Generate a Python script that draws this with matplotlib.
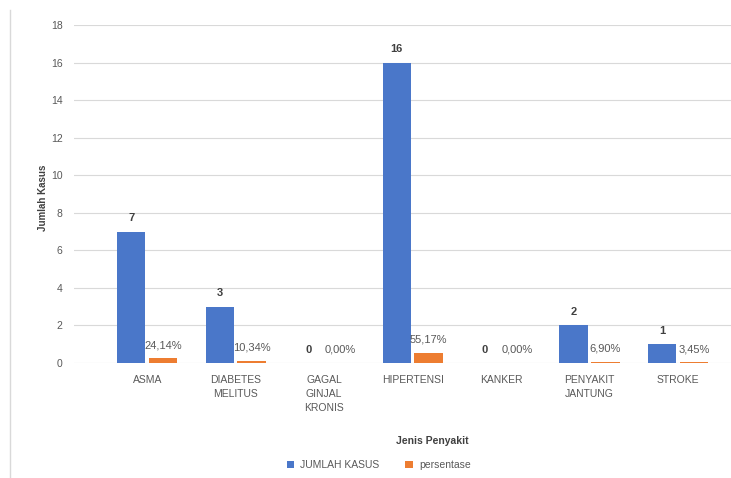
import numpy as np
import matplotlib
matplotlib.use('Agg')
import matplotlib.pyplot as plt
from matplotlib.lines import Line2D

plt.rcParams['font.family'] = ['Liberation Sans', 'DejaVu Sans']

# data
categories = ['ASMA', 'DIABETES\nMELITUS', 'GAGAL\nGINJAL\nKRONIS', 'HIPERTENSI',
              'KANKER', 'PENYAKIT\nJANTUNG', 'STROKE']
jumlah_kasus = [7, 3, 0, 16, 0, 2, 1]
persentase = [0.2414, 0.1034, 0.0, 0.5517, 0.0, 0.0690, 0.0345]
persen_labels = ['24,14%', '10,34%', '0,00%', '55,17%', '0,00%', '6,90%', '3,45%']
yticks = [0, 2, 4, 6, 8, 10, 12, 14, 16, 18]

blue = '#4a77c9'
orange = '#ed7d31'
grey = '#595959'

fig = plt.figure(figsize=(7.31, 4.78), dpi=100)
ax = fig.add_axes([0.101, 0.2406, 0.899, 0.7071])

x = np.arange(len(categories))
w = 0.32
b1 = ax.bar(x - 0.18, jumlah_kasus, w, color=blue, label='JUMLAH KASUS', zorder=3)
b2 = ax.bar(x + 0.18, persentase, w, color=orange, label='persentase', zorder=3)

for rect, v in zip(b1, jumlah_kasus):
    ax.annotate(str(v), (rect.get_x() + rect.get_width() / 2, rect.get_height()),
                xytext=(0, 6), textcoords='offset points', ha='center', va='bottom',
                fontsize=8, color='#404040', fontweight='bold')
for rect, s in zip(b2, persen_labels):
    ax.annotate(s, (rect.get_x() + rect.get_width() / 2, rect.get_height()),
                xytext=(0, 6), textcoords='offset points', ha='center', va='bottom',
                fontsize=8, color=grey)

ax.set_ylim(0, 18)
ax.set_xlim(-0.83, 6.6)
ax.set_yticks(yticks)
ax.set_xticks(x)
ax.set_xticklabels(categories, fontsize=7.5, color=grey, linespacing=1.5)
ax.tick_params(axis='y', labelsize=7.5, labelcolor=grey, length=0, pad=8)
ax.tick_params(axis='x', length=0, pad=9)
ax.grid(axis='y', color='#d9d9d9', linewidth=0.8, zorder=0)
for sp in ax.spines.values():
    sp.set_visible(False)

ax.set_ylabel('Jumlah Kasus', fontsize=7, fontweight='bold', color='#404040')
ax.yaxis.set_label_coords(-0.04, 0.49)
ax.set_xlabel('Jenis Penyakit', fontsize=7.5, fontweight='bold', color='#404040')
ax.xaxis.set_label_coords(0.546, -0.215)

fig.legend(handles=[b1, b2], loc='center', bbox_to_anchor=(0.518, 0.027), ncol=2,
           frameon=False, fontsize=7.5, labelcolor=grey, handlelength=0.7,
           handleheight=0.7, columnspacing=2.5, handletextpad=0.6)

# thin border line on the left
fig.add_artist(Line2D([0.014, 0.014], [0, 0.98], color='#d9d9d9', linewidth=1))

fig.savefig('out.png', dpi=100)
